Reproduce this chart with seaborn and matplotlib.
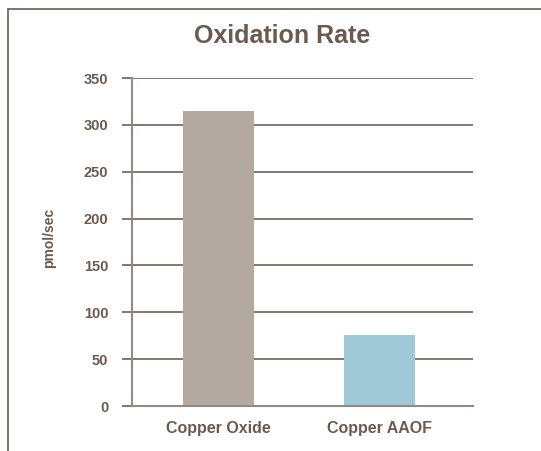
import matplotlib
matplotlib.use("Agg")
import matplotlib.pyplot as plt
from matplotlib.lines import Line2D
import seaborn as sns
import pandas as pd

# Data
categories = ["Copper Oxide", "Copper AAOF"]
rates = [315, 76]
yticks = [0, 50, 100, 150, 200, 250, 300, 350]
bar_colors = ["#b3a9a0", "#a0c9d7"]

TEXT = "#6b5a4f"
GRID = "#6e5f55"
SPINE = "#958a83"

sns.set_theme(style="white")
plt.rcParams["font.family"] = ["Liberation Sans", "DejaVu Sans"]

df = pd.DataFrame({"material": categories, "rate": rates})

fig = plt.figure(figsize=(5.41, 4.51), dpi=100)
ax = fig.add_axes([132 / 541, 45 / 451, 341 / 541, 328 / 451])

for y in yticks[1:]:
    ax.axhline(y, color=GRID, lw=1.2, zorder=0)

sns.barplot(data=df, x="material", y="rate", hue="material",
            palette=bar_colors, legend=False, width=0.44,
            saturation=1, linewidth=0, ax=ax, zorder=2)

ax.set_ylim(0, 350)
ax.set_xlim(-0.537, 1.58)
ax.set_yticks(yticks)
ax.set_yticklabels([str(v) for v in yticks], fontsize=10.5,
                   fontweight="bold", color=TEXT)
ax.set_xticks(range(len(categories)))
ax.set_xticklabels(categories, fontsize=11.5, fontweight="bold", color=TEXT)
ax.tick_params(axis="y", length=7, width=1.2, color=GRID, pad=10, left=True)
ax.tick_params(axis="x", length=0, pad=11)
ax.set_xlabel("")
ax.set_ylabel("")

for side in ["top", "right"]:
    ax.spines[side].set_visible(False)
ax.spines["left"].set_color(SPINE)
ax.spines["left"].set_linewidth(1.5)
ax.spines["bottom"].set_color(SPINE)
ax.spines["bottom"].set_linewidth(1.5)
ax.spines["bottom"].set_zorder(3)

fig.text(282 / 541, 1 - 43 / 451, "Oxidation Rate", ha="center", va="baseline",
         fontsize=18, fontweight="bold", color=TEXT)
fig.text(49 / 541, 1 - 238 / 451, "pmol/sec", ha="center", va="center",
         rotation=90, fontsize=10, fontweight="bold", color=TEXT)

# Outer frame (left and top edges)
fig.add_artist(Line2D([8 / 541, 8 / 541], [0, 1 - 9 / 451],
                      transform=fig.transFigure, color="#6b5d55", lw=1.2))
fig.add_artist(Line2D([8 / 541, 1], [1 - 9 / 451, 1 - 9 / 451],
                      transform=fig.transFigure, color="#6b5d55", lw=1.2))

fig.savefig("out.png", dpi=100)
